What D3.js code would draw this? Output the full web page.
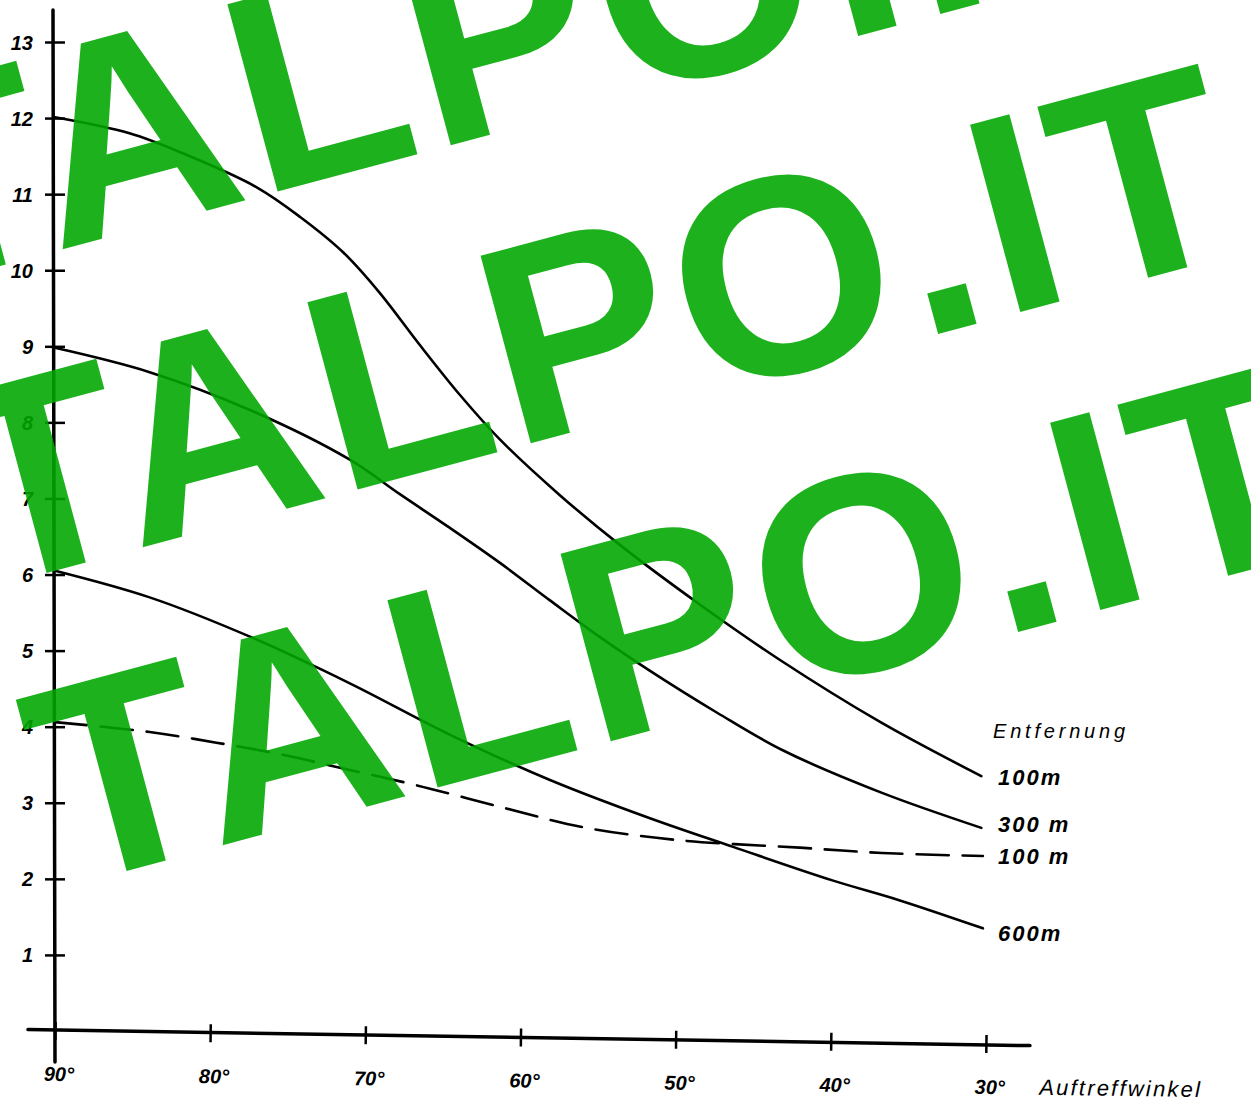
<!DOCTYPE html>
<html>
<head>
<meta charset="utf-8">
<script src="https://cdn.jsdelivr.net/npm/d3@7"></script>
<style>
  html, body { margin: 0; padding: 0; background: #fff; }
  svg { display: block; }
</style>
</head>
<body>
<svg id="chart" width="1251" height="1101"></svg>
<script>
// ---- data ----
const xTicks = [90, 80, 70, 60, 50, 40, 30];
const xTickLabels = ["90°", "80°", "70°", "60°", "50°", "40°", "30°"];
const yTicks = [1, 2, 3, 4, 5, 6, 7, 8, 9, 10, 11, 12, 13];
const yTickLabels = ["1", "2", "3", "4", "5", "6", "7", "8", "9", "10", "11", "12", "13"];

const angles100 = [90, 85.2, 81.8, 77.0, 74.2, 71.4, 69.1, 66.5, 63.9, 61.3, 57.5, 53.6, 48.4, 43.3, 36.8, 30.3];
const values100 = [12.01, 11.80, 11.54, 11.09, 10.70, 10.23, 9.71, 9.02, 8.36, 7.77, 7.05, 6.39, 5.60, 4.88, 4.06, 3.35];

const angles300 = [90, 83.9, 77.4, 71.0, 67.8, 64.6, 61.3, 58.1, 54.9, 51.7, 47.3, 43.1, 36.7, 30.3];
const values300 = [8.98, 8.66, 8.16, 7.51, 7.06, 6.62, 6.15, 5.66, 5.18, 4.74, 4.18, 3.69, 3.13, 2.67];

const angles600 = [90, 83.9, 77.4, 71.0, 64.6, 58.1, 51.7, 46.3, 39.9, 35.6, 30.2];
const values600 = [6.05, 5.70, 5.18, 4.57, 3.90, 3.30, 2.80, 2.42, 1.98, 1.72, 1.35];

const anglesDashed100 = [90, 83.9, 79.6, 75.3, 71.0, 66.7, 61.0, 56.0, 49.9, 42.0, 36.7, 30.2];
const valuesDashed100 = [4.06, 3.93, 3.79, 3.63, 3.43, 3.23, 2.93, 2.68, 2.51, 2.41, 2.34, 2.30];

const seriesNames = ["100m", "300 m", "600m", "100 m"];
const legendTitle = "Entfernung";
const xAxisTitle = "Auftreffwinkel";
const watermarkLines = ["TALPO.IT", "TALPO.IT", "TALPO.IT"];

// ---- drawing ----
const svg = d3.select("#chart");
svg.append("rect").attr("width", 1251).attr("height", 1101).attr("fill", "#fff");

const x = d3.scaleLinear().domain([90, 30]).range([55, 986]);
const y = d3.scaleLinear().domain([0, 13]).range([1031, 42]);

const labelFont = "'Liberation Sans', Arial, sans-serif";

// y axis
const yAxisG = svg.append("g").attr("transform", `translate(${x(90)},0)`);
yAxisG.append("line")
  .attr("x1", -2).attr("y1", 10).attr("x2", 0).attr("y2", 1062)
  .attr("stroke", "#000").attr("stroke-width", 3.5).attr("stroke-linecap", "round");
const yAx = d3.axisLeft(y).tickValues(yTicks).tickFormat((d, i) => yTickLabels[i]).tickSize(0).tickPadding(22);
const yAxisInner = yAxisG.append("g").call(yAx);
yAxisInner.select(".domain").remove();
yAxisInner.selectAll(".tick line")
  .attr("x1", -10).attr("x2", 10).attr("stroke", "#000").attr("stroke-width", 2.5);
yAxisInner.selectAll(".tick text")
  .attr("font-family", labelFont).attr("font-size", 20).attr("font-weight", "bold")
  .attr("font-style", "italic").attr("fill", "#000").attr("dy", "0.35em");

// x axis (slightly tilted as in the scan)
const xAxisG = svg.append("g")
  .attr("transform", `translate(0,${y(0)}) rotate(0.8, ${x(90)}, 0)`);
xAxisG.append("line")
  .attr("x1", 28).attr("y1", -1).attr("x2", 1030).attr("y2", 1)
  .attr("stroke", "#000").attr("stroke-width", 3.5).attr("stroke-linecap", "round");
const xAx = d3.axisBottom(x).tickValues(xTicks).tickFormat((d, i) => xTickLabels[i]).tickSize(0).tickPadding(50);
const xAxisInner = xAxisG.append("g").call(xAx);
xAxisInner.select(".domain").remove();
xAxisInner.selectAll(".tick line")
  .attr("y1", -9).attr("y2", 9).attr("stroke", "#000").attr("stroke-width", 2.5);
xAxisInner.selectAll(".tick text")
  .attr("font-family", labelFont).attr("font-size", 20).attr("font-weight", "bold")
  .attr("font-style", "italic").attr("fill", "#000").attr("dy", "0").attr("dx", 4);
xAxisG.append("text")
  .attr("x", 1040).attr("y", 50)
  .attr("font-family", labelFont).attr("font-size", 22).attr("font-style", "italic")
  .attr("letter-spacing", 2.2).attr("fill", "#000")
  .text(xAxisTitle);

// curves
const line = d3.line().x(d => x(d[0])).y(d => y(d[1])).curve(d3.curveCatmullRom.alpha(0.5));
const curves = [
  { a: angles100, v: values100, dash: null },
  { a: angles300, v: values300, dash: null },
  { a: angles600, v: values600, dash: null },
  { a: anglesDashed100, v: valuesDashed100, dash: "32,14" }
];
curves.forEach(c => {
  svg.append("path")
    .datum(c.a.map((a, i) => [a, c.v[i]]))
    .attr("d", line)
    .attr("fill", "none").attr("stroke", "#000").attr("stroke-width", 2.6)
    .attr("stroke-linecap", "round")
    .attr("stroke-dasharray", c.dash);
});

// curve labels
const labelYs = [values100, values300, values600, valuesDashed100].map(v => v[v.length - 1]);
const labelOffsets = [9, 4, 13, 8];
svg.append("text")
  .attr("x", 993).attr("y", 738)
  .attr("font-family", labelFont).attr("font-size", 20).attr("font-style", "italic")
  .attr("letter-spacing", 3.8).attr("fill", "#000")
  .text(legendTitle);
seriesNames.forEach((name, i) => {
  svg.append("text")
    .attr("x", 998).attr("y", y(labelYs[i]) + labelOffsets[i])
    .attr("font-family", labelFont).attr("font-size", 22).attr("font-style", "italic")
    .attr("font-weight", "bold").attr("letter-spacing", 2).attr("fill", "#000")
    .text(name);
});

// watermark
const wmStart = [-97, 292];
const wmStep = [80, 298];
watermarkLines.forEach((t, i) => {
  svg.append("text")
    .attr("transform", `translate(${wmStart[0] + i * wmStep[0]},${wmStart[1] + i * wmStep[1]}) rotate(-15)`)
    .attr("font-family", "'Liberation Sans', Arial, sans-serif")
    .attr("font-weight", "bold").attr("font-size", 282)
    .attr("letter-spacing", 7)
    .attr("fill", "rgb(0,168,0)").attr("fill-opacity", 0.886)
    .text(t);
});
</script>
</body>
</html>
